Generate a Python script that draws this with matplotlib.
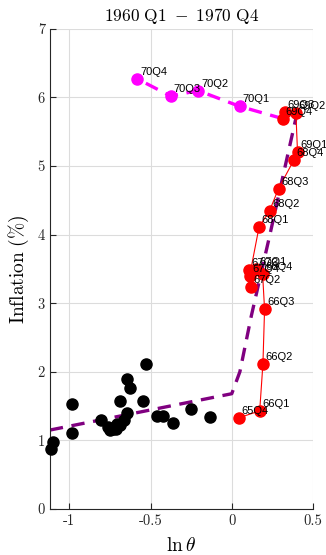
import numpy as np
import matplotlib
matplotlib.use("Agg")
import matplotlib.pyplot as plt

plt.rcParams["mathtext.fontset"] = "cm"
plt.rcParams["axes.unicode_minus"] = False

#----------
## Data: ln(theta) vs inflation, 1960 Q1 - 1970 Q4
#----------

# 1960 Q1 - 1965 Q3 (unlabelled, black)
early_x = [-1.112, -1.10, -0.986, -0.986, -0.804, -0.765, -0.748, -0.714, -0.704,
           -0.73, -0.69, -0.663, -0.646, -0.687, -0.648, -0.626, -0.546, -0.528,
           -0.462, -0.421, -0.360, -0.254, -0.135]
early_y = [0.88, 0.98, 1.53, 1.10, 1.30, 1.19, 1.15, 1.17, 1.24,
           1.17, 1.22, 1.29, 1.40, 1.58, 1.89, 1.76, 1.58, 2.11,
           1.36, 1.35, 1.25, 1.45, 1.34]

# 1965 Q4 - 1969 Q4 (red, connected)
mid_labels = ["65Q4", "66Q1", "66Q2", "66Q3", "66Q4", "67Q1", "67Q2", "67Q3", "67Q4",
              "68Q1", "68Q2", "68Q3", "68Q4", "69Q1", "69Q2", "69Q3", "69Q4"]
mid_x = [0.045, 0.172, 0.192, 0.202, 0.19, 0.15, 0.117, 0.104, 0.11,
         0.168, 0.233, 0.288, 0.383, 0.405, 0.395, 0.325, 0.315]
mid_y = [1.33, 1.43, 2.12, 2.91, 3.42, 3.50, 3.24, 3.48, 3.40,
         4.11, 4.35, 4.67, 5.09, 5.20, 5.77, 5.79, 5.69]

# 1970 Q1 - 1970 Q4 (magenta)
late_labels = ["70Q1", "70Q2", "70Q3", "70Q4"]
late_x = [0.049, -0.207, -0.376, -0.581]
late_y = [5.87, 6.10, 6.02, 6.27]

# kinked curve (purple dashed)
curve_x = [-1.12, 0.0, 0.05, 0.12, 0.233, 0.40]
curve_y = [1.15, 1.68, 2.00, 2.81, 3.98, 5.75]

#----------
## Plot
#----------

fig = plt.figure(figsize=(3.26, 5.55), dpi=100)
ax = fig.add_axes([0.153, 0.083, 0.807, 0.865])

ax.grid(True, color="#dcdcdc", linewidth=0.8)
ax.set_axisbelow(True)

ax.plot(curve_x, curve_y, color="#800080", linestyle=(0, (4, 2.6)), linewidth=2.4, zorder=2)

ax.plot(early_x, early_y, "o", color="black", markersize=8, zorder=3, clip_on=False)

ax.plot(mid_x, mid_y, "-", color="red", linewidth=0.8, zorder=3)
ax.plot(mid_x, mid_y, "o", color="red", markersize=8, zorder=4, clip_on=False)

# magenta dashed from 69Q4 through 1970
ax.plot([mid_x[-1]] + late_x, [mid_y[-1]] + late_y, color="magenta",
        linestyle=(0, (4, 2.6)), linewidth=2.4, zorder=3)
ax.plot(late_x, late_y, "o", color="magenta", markersize=8, zorder=4, clip_on=False)

for lab, x, y in zip(mid_labels + late_labels, mid_x + late_x, mid_y + late_y):
    ax.annotate(lab, (x, y), xytext=(2, 5), textcoords="offset points",
                ha="left", va="center", fontsize=8, family="Liberation Sans", zorder=5)

ax.set_xlim(-1.12, 0.5)
ax.set_ylim(0, 7)
ax.set_xticks([-1, -0.5, 0, 0.5])
ax.set_xticklabels(["-1", "-0.5", "0", "0.5"], family="cmr10", fontsize=10.5)
ax.set_yticks(range(8))
ax.set_yticklabels([str(v) for v in range(8)], family="cmr10", fontsize=10.5)
ax.tick_params(direction="in", length=4, width=0.8, colors="#262626")

for side in ["top", "right"]:
    ax.spines[side].set_visible(False)
for side in ["left", "bottom"]:
    ax.spines[side].set_color("#262626")
    ax.spines[side].set_linewidth(0.8)

ax.set_xlabel(r"$\ln\theta$", fontsize=14, labelpad=6)
ax.set_ylabel(r"$\mathrm{Inflation\ (\%)}$", fontsize=14, labelpad=5)
ax.set_title(r"$\mathrm{1960\ Q1\ -\ 1970\ Q4}$", fontsize=12.5, pad=6)

fig.savefig("out.png", dpi=100)
